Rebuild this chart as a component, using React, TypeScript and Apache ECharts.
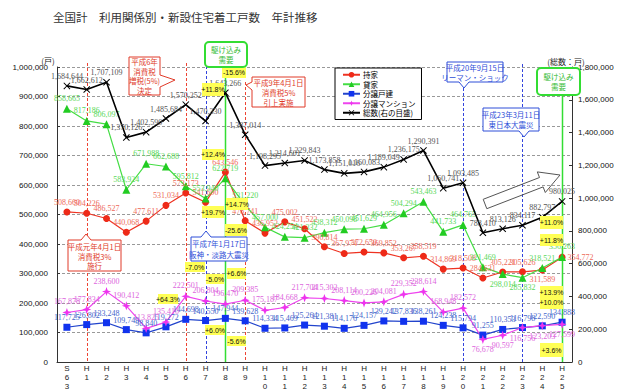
import React, { useEffect, useRef } from 'react';
import * as echarts from 'echarts';

const categories = ['S63', 'H1', 'H2', 'H3', 'H4', 'H5', 'H6', 'H7', 'H8', 'H9', 'H10', 'H11', 'H12', 'H13', 'H14', 'H15', 'H16', 'H17', 'H18', 'H19', 'H20', 'H21', 'H22', 'H23', 'H24', 'H25'];

// 持家
const ownerOccupied = [508660, 504226, 486527, 440068, 477611, 531034, 573173, 541690, 643546, 478741, 436952, 475002, 451522, 390814, 367974, 372650, 369852, 353267, 358519, 314869, 318508, 284631, 305221, 305626, 311589, 354772];
// 貸家
const rental = [858665, 817186, 806097, 583924, 671988, 662688, 595812, 553940, 622719, 531220, 457000, 424254, 421332, 438312, 450098, 451629, 464956, 504294, 543463, 441733, 464765, 321469, 298014, 285832, 318521, 356263];
// 分譲戸建
const detachedForSale = [117725, 126802, 133248, 109749, 98840, 119272, 144698, 140550, 147944, 139628, 114334, 115469, 125264, 121381, 114176, 124157, 139242, 137836, 138261, 124238, 115794, 91255, 110353, 116798, 122590, 134888];
// 分譲マンション
const condoForSale = [167878, 177834, 238600, 190412, 113825, 135410, 222501, 206804, 196470, 209385, 175187, 184668, 217704, 215302, 208114, 200226, 204081, 229352, 238614, 168948, 182572, 76678, 90597, 116756, 123203, 127599];
// 総数（右の目盛）
const total = [1684644, 1662612, 1707109, 1370126, 1402590, 1485684, 1570252, 1470330, 1643266, 1387014, 1198295, 1214601, 1229843, 1173858, 1151016, 1160083, 1189049, 1236175, 1290391, 1060741, 1093485, 788410, 813126, 834117, 882797, 980025];

const seriesNames = ['持家', '貸家', '分譲戸建', '分譲マンション', '総数(右の目盛)'];
const leftAxis = { min: 0, max: 1000000, interval: 100000 };
const rightAxis = { min: 0, max: 1800000, interval: 200000 };

const titleText = '全国計　利用関係別・新設住宅着工戸数　年計推移';

const fmt = (v: number) => v.toLocaleString('en-US');

const X_SYMBOL = 'path://M0,1L1,0L5,4L9,0L10,1L6,5L10,9L9,10L5,6L1,10L0,9L4,5Z';
const STAR_SYMBOL = 'path://M5,0L6.3,3.7L10,5L6.3,6.3L5,10L3.7,6.3L0,5L3.7,3.7Z';

const LABEL_FONT = 'Liberation Serif';

function withLabelPos(values: number[], below: number[], right: number[] = []) {
  return values.map((v, i) => {
    if (below.includes(i)) return { value: v, label: { position: 'bottom' } };
    if (right.includes(i)) return { value: v, label: { position: 'right' } };
    return v;
  });
}

export default function App() {
  const ref = useRef<HTMLDivElement>(null);
  useEffect(() => {
    if (!ref.current) return;
    const chart = echarts.init(ref.current, null, { renderer: 'svg' });
    const mkLabel = (color: string) => ({
      show: true,
      position: 'top',
      distance: 2,
      fontSize: 8,
      fontFamily: LABEL_FONT,
      color,
      formatter: (p: any) => fmt(p.value),
    });
    const option: any = {
      animation: false,
      backgroundColor: '#ffffff',
      title: {
        text: titleText,
        left: 48,
        top: 6,
        textStyle: { fontSize: 11.5, fontWeight: 'normal', color: '#333', fontFamily: 'Noto Sans CJK JP' },
      },
      legend: {
        orient: 'vertical',
        left: 335,
        top: 68,
        width: 82,
        padding: [3, 6, 3, 7],
        itemGap: 2,
        itemWidth: 17,
        itemHeight: 7,
        borderColor: '#000',
        borderWidth: 1,
        backgroundColor: '#fff',
        textStyle: { fontSize: 7.5, color: '#000', fontFamily: 'Noto Sans CJK JP', padding: [0, 0, 0, -2] },
        data: seriesNames,
      },
      grid: { left: 57, right: 68, top: 67, bottom: 30, containLabel: false, outerBoundsMode: 'none' },
      xAxis: {
        type: 'category',
        data: categories,
        boundaryGap: true,
        axisLine: { lineStyle: { color: '#333' } },
        axisTick: { inside: true, length: 4, lineStyle: { color: '#333' } },
        axisLabel: {
          interval: 0,
          fontSize: 8,
          lineHeight: 9,
          margin: 2,
          color: '#222',
          fontFamily: 'Liberation Sans',
          formatter: (v: string) => v.split('').join('\n'),
        },
      },
      yAxis: [
        {
          type: 'value',
          ...leftAxis,
          axisLine: { show: true, lineStyle: { color: '#333' } },
          axisTick: { show: true, inside: true, length: 3, lineStyle: { color: '#333' } },
          splitLine: { lineStyle: { type: [3, 2], color: '#999' } },
          axisLabel: { formatter: fmt, fontSize: 8, margin: 9, color: '#111', fontFamily: 'Liberation Sans' },
        },
        {
          type: 'value',
          ...rightAxis,
          position: 'right',
          axisLine: { show: true, lineStyle: { color: '#333' } },
          axisTick: { show: true, inside: true, length: 3, lineStyle: { color: '#333' } },
          splitLine: { show: false },
          axisLabel: { formatter: fmt, fontSize: 8, margin: 6, color: '#111', fontFamily: 'Liberation Sans' },
        },
      ],
      series: [
        {
          name: seriesNames[0],
          type: 'line',
          yAxisIndex: 0,
          data: withLabelPos(ownerOccupied, [24], [25]),
          symbol: 'circle',
          symbolSize: 7,
          lineStyle: { color: '#ee3322', width: 1.2 },
          itemStyle: { color: '#ee2a18' },
          label: mkLabel('#ee6a5a'),
          z: 4,
        },
        {
          name: seriesNames[1],
          type: 'line',
          yAxisIndex: 0,
          data: withLabelPos(rental, [22, 23]),
          symbol: 'triangle',
          symbolSize: 8,
          lineStyle: { color: '#44dd44', width: 1.2 },
          itemStyle: { color: '#22cc22' },
          label: mkLabel('#5ad85a'),
          z: 4,
        },
        {
          name: seriesNames[2],
          type: 'line',
          yAxisIndex: 0,
          data: detachedForSale,
          symbol: 'rect',
          symbolSize: 7,
          lineStyle: { color: '#2244cc', width: 1.2 },
          itemStyle: { color: '#1133ee' },
          label: mkLabel('#4466cc'),
          z: 4,
        },
        {
          name: seriesNames[3],
          type: 'line',
          yAxisIndex: 0,
          data: withLabelPos(condoForSale, [21, 22, 23, 24, 25]),
          symbol: STAR_SYMBOL,
          symbolSize: 9,
          lineStyle: { color: '#ee44ee', width: 1.2 },
          itemStyle: { color: '#ee33ee' },
          label: mkLabel('#dd66dd'),
          z: 4,
        },
        {
          name: seriesNames[4],
          type: 'line',
          yAxisIndex: 1,
          data: total,
          symbol: X_SYMBOL,
          symbolSize: 7,
          lineStyle: { color: '#000', width: 1.6 },
          itemStyle: { color: '#000' },
          label: mkLabel('#555'),
          z: 5,
        },
      ],
    };
    chart.setOption(option);

    const xOf = (c: string) => chart.convertToPixel({ xAxisIndex: 0 }, c) as number;
    const yBottom = chart.convertToPixel({ yAxisIndex: 0 }, 0) as number;

    const vLines = [
      { cat: 'H1', top: 63, color: '#ee4433', dash: true },
      { cat: 'H6', top: 63, color: '#ee4433', dash: true },
      { cat: 'H9', top: 82, color: '#ee4433', dash: true },
      { cat: 'H7', top: 66, color: '#3344dd', dash: true },
      { cat: 'H20', top: 88, color: '#3344dd', dash: true },
      { cat: 'H23', top: 64, color: '#3344dd', dash: true },
      { cat: 'H8', top: 67, color: '#33dd33', dash: false },
      { cat: 'H25', top: 95, color: '#33dd33', dash: false },
    ];

    const centerText = (x: number, y: number, text: string, color: string, size: number, lh: number, z = 61) => ({
      type: 'text',
      x,
      y,
      z,
      style: {
        text,
        fill: color,
        fontSize: size,
        fontFamily: 'Noto Sans CJK JP',
        lineHeight: lh,
        align: 'center',
        verticalAlign: 'middle',
        textAlign: 'center',
        textVerticalAlign: 'middle',
      },
    });

    const tags = [
      { x: 202, y: 83, w: 22, h: 13, t: '+11.8%' },
      { x: 222, y: 67, w: 24, h: 11, t: '-15.6%' },
      { x: 202, y: 149, w: 22, h: 11, t: '+12.4%' },
      { x: 226, y: 198, w: 22, h: 12, t: '+14.7%' },
      { x: 202, y: 206, w: 22, h: 12, t: '+19.7%' },
      { x: 225, y: 224, w: 22, h: 12, t: '-25.6%' },
      { x: 185, y: 262, w: 20, h: 10, t: '-7.0%' },
      { x: 206, y: 274, w: 18, h: 10, t: '-5.0%' },
      { x: 227, y: 268, w: 19, h: 11, t: '+6.6%' },
      { x: 158, y: 294, w: 20, h: 10, t: '+64.3%' },
      { x: 205, y: 325, w: 20, h: 10, t: '+6.0%' },
      { x: 227, y: 336, w: 19, h: 10, t: '-5.6%' },
      { x: 540, y: 216, w: 23, h: 13, t: '+11.0%' },
      { x: 540, y: 234, w: 23, h: 12, t: '+11.8%' },
      { x: 540, y: 286, w: 23, h: 23, t: '+13.9%\n+10.0%' },
      { x: 540, y: 343, w: 23, h: 14, t: '+3.6%' },
    ];

    const callouts = [
      {
        pts: [[129, 57], [160, 57], [160, 75], [175, 80], [160, 87], [160, 95], [129, 95]],
        color: '#e03a28', cx: 144.5, cy: 76, lh: 9.5,
        text: '平成6年\n消費税\n増税(5%)\n決定',
      },
      {
        pts: [[252, 77], [305, 77], [305, 107], [252, 107], [252, 90], [246, 85], [252, 82]],
        color: '#e03a28', cx: 278.5, cy: 92, lh: 10,
        text: '平成9年4月1日\n消費税5%\n引上実施',
      },
      {
        pts: [[68, 240], [81, 240], [86, 234], [91, 240], [121, 240], [121, 271], [68, 271]],
        color: '#e03a28', cx: 94.5, cy: 256, lh: 9.5,
        text: '平成元年4月1日\n消費税3%\n施行',
      },
      {
        pts: [[191, 237], [201, 237], [206, 231], [211, 237], [247, 237], [247, 261], [191, 261]],
        color: '#2f4fd8', cx: 219, cy: 249, lh: 10.5,
        text: '平成7年1月17日\n阪神・淡路大震災',
      },
      {
        pts: [[447, 62], [503, 62], [503, 82], [469, 82], [464, 88], [459, 82], [447, 82]],
        color: '#2f4fd8', cx: 475, cy: 72, lh: 10,
        text: '平成20年9月15日\nリーマン・ショック',
      },
      {
        pts: [[483, 108], [539, 108], [539, 131], [529, 131], [524, 137], [519, 131], [483, 131]],
        color: '#2f4fd8', cx: 511, cy: 119.5, lh: 10.5,
        text: '平成23年3月11日\n東日本大震災',
      },
    ];

    const greenBoxes = [
      { x: 205, y: 42, w: 42, h: 25 },
      { x: 537, y: 68, w: 43, h: 27 },
    ];

    const graphic: any[] = [];
    vLines.forEach((l) => {
      const x = Math.round(xOf(l.cat)) + 0.5;
      graphic.push({
        type: 'line',
        z: 1,
        shape: { x1: x, y1: l.top, x2: x, y2: yBottom },
        style: { stroke: l.color, lineWidth: l.dash ? 1 : 1.5, lineDash: l.dash ? [3, 2] : null },
      });
    });
    callouts.forEach((c) => {
      graphic.push({
        type: 'polygon',
        z: 60,
        shape: { points: c.pts },
        style: { fill: '#fff', stroke: c.color, lineWidth: 1 },
      });
      graphic.push(centerText(c.cx, c.cy, c.text, c.color, 7.5, c.lh));
    });
    greenBoxes.forEach((b) => {
      graphic.push({
        type: 'rect',
        z: 60,
        shape: { x: b.x, y: b.y, width: b.w, height: b.h, r: 4 },
        style: { fill: '#fff', stroke: '#33dd33', lineWidth: 2 },
      });
      graphic.push(centerText(b.x + b.w / 2, b.y + b.h / 2, '駆け込み\n需要', '#33bb33', 7.5, 10));
    });
    tags.forEach((t) => {
      graphic.push({
        type: 'rect',
        z: 50,
        shape: { x: t.x, y: t.y, width: t.w, height: t.h },
        style: { fill: '#ffff55' },
      });
      graphic.push({
        type: 'text',
        x: t.x + t.w / 2,
        y: t.y + t.h / 2,
        z: 51,
        style: {
          text: t.t,
          fill: '#111',
          fontSize: 7,
          lineHeight: 10,
          fontFamily: 'Liberation Sans',
          align: 'center',
          verticalAlign: 'middle',
          textAlign: 'center',
          textVerticalAlign: 'middle',
        },
      });
    });
    // hollow arrow (trend)
    graphic.push({
      type: 'polygon',
      z: 40,
      shape: {
        points: [[483.2, 199.3], [539.5, 177.5], [537.3, 171.9], [560, 175], [545.3, 192.5], [543.1, 186.9], [486.8, 208.7]],
      },
      style: { fill: 'rgba(255,255,255,0)', stroke: '#555', lineWidth: 1 },
    });
    // axis unit labels
    graphic.push(centerText(48, 60, '(戸)', '#222', 8, 10, 30));
    graphic.push(centerText(566, 61, '(総数：戸)', '#222', 8, 10, 30));

    chart.setOption({ graphic });

    return () => chart.dispose();
  }, []);
  return <div ref={ref} style={{ position: 'fixed', left: 0, top: 0, width: 640, height: 392 }} />;
}
